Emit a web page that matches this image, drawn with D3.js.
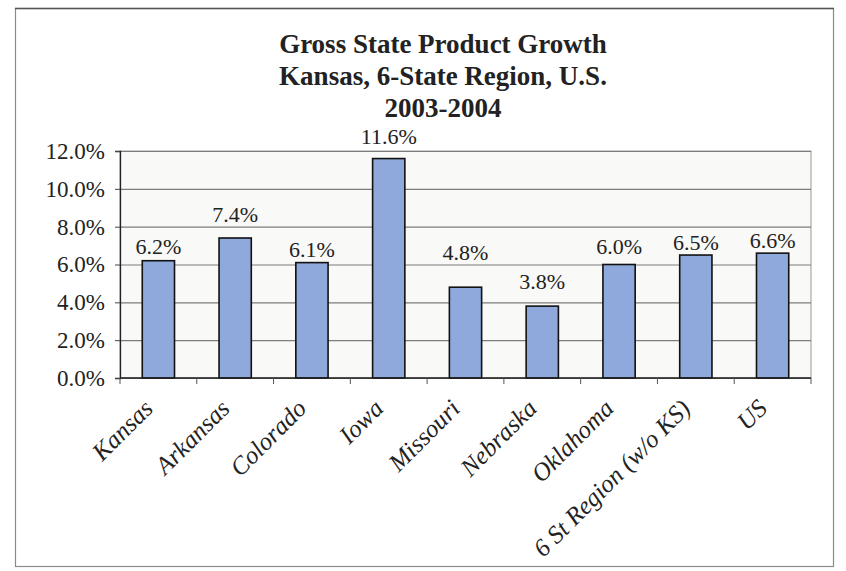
<!DOCTYPE html>
<html>
<head>
<meta charset="utf-8">
<script src="https://cdn.jsdelivr.net/npm/d3@7"></script>
<style>
  html, body { margin: 0; padding: 0; background: #fff; }
  svg { display: block; }
</style>
</head>
<body>
<script>
var states = ["Kansas", "Arkansas", "Colorado", "Iowa", "Missouri", "Nebraska", "Oklahoma", "6 St Region (w/o KS)", "US"];
var growth = [6.2, 7.4, 6.1, 11.6, 4.8, 3.8, 6.0, 6.5, 6.6];
var yTicks = [0, 2, 4, 6, 8, 10, 12];
var titleLines = ["Gross State Product Growth", "Kansas, 6-State Region, U.S.", "2003-2004"];

// labels were hand placed in the original, lift above bar top in px
var labelLift = [7, 16, 6, 15, 27, 17, 11, 5, 5];

var width = 846;
var height = 571;
var margin = {top: 151, right: 35, bottom: 193, left: 120};
var innerWidth = width - margin.left - margin.right;
var innerHeight = height - margin.top - margin.bottom;
var font = "Liberation Serif, serif";

var svg = d3.select("body")
  .append("svg")
  .attr("width", width)
  .attr("height", height)
  .attr("font-family", font);

// outer frame
svg.append("rect")
  .attr("x", 15.5)
  .attr("y", 8.5)
  .attr("width", 818)
  .attr("height", 558)
  .attr("fill", "#fff")
  .attr("stroke", "#8a8a8a")
  .attr("stroke-width", 1.2);

svg.append("line")
  .attr("x1", 15).attr("x2", 834)
  .attr("y1", 8.5).attr("y2", 8.5)
  .attr("stroke", "#555")
  .attr("stroke-width", 1.6);

// title, one text per line
svg.selectAll(".title")
  .data(titleLines)
  .enter()
  .append("text")
    .attr("class", "title")
    .attr("x", 443)
    .attr("y", function(d, i) { return 53 + i * 32; })
    .attr("text-anchor", "middle")
    .attr("font-weight", "bold")
    .attr("font-size", 27)
    .attr("fill", "#222")
    .text(function(d) { return d; });

var g = svg.append("g")
  .attr("transform", "translate(" + margin.left + "," + margin.top + ")");

var x = d3.scaleBand()
  .domain(states)
  .range([0, innerWidth])
  .paddingInner(0.58)
  .paddingOuter(0.29);

var y = d3.scaleLinear()
  .domain([0, 12])
  .range([innerHeight, 0]);

// plot area
g.append("rect")
  .attr("width", innerWidth)
  .attr("height", innerHeight)
  .attr("fill", "#f9f9f7")
  .attr("stroke", "#999")
  .attr("stroke-width", 1);

//gridlines
g.append("g")
  .attr("class", "grid")
  .call(d3.axisLeft(y).tickValues(yTicks).tickSize(-innerWidth).tickFormat(""))
  .call(function(s) {
    s.select(".domain").remove();
    s.selectAll("line").attr("stroke", "#7d7d7d").attr("stroke-width", 1.2);
  });

// y axis
g.append("g")
  .call(d3.axisLeft(y).tickValues(yTicks).tickSize(5).tickPadding(10)
    .tickFormat(function(d) { return d3.format(".1f")(d) + "%"; }))
  .attr("font-family", font)
  .attr("font-size", 23)
  .call(function(s) {
    s.select(".domain").attr("stroke", "#222").attr("stroke-width", 1.3);
    s.selectAll("line").attr("stroke", "#444");
    s.selectAll("text").attr("fill", "#222");
  });

// bars
g.selectAll(".bar")
  .data(states)
  .enter()
  .append("rect")
    .attr("class", "bar")
    .attr("x", function(d) { return x(d); })
    .attr("y", function(d, i) { return y(growth[i]); })
    .attr("width", x.bandwidth())
    .attr("height", function(d, i) { return innerHeight - y(growth[i]); })
    .attr("fill", "#8fa9dc")
    .attr("stroke", "#111")
    .attr("stroke-width", 1.6);

// value labels
g.selectAll(".val")
  .data(states)
  .enter()
  .append("text")
    .attr("class", "val")
    .attr("x", function(d) { return x(d) + x.bandwidth() / 2; })
    .attr("y", function(d, i) { return y(growth[i]) - labelLift[i]; })
    .attr("text-anchor", "middle")
    .attr("font-size", 22)
    .attr("fill", "#222")
    .text(function(d, i) { return growth[i].toFixed(1) + "%"; });

// x axis with ticks between categories
var xAxis = g.append("g")
  .attr("transform", "translate(0," + innerHeight + ")");

xAxis.append("line")
  .attr("x1", 0).attr("x2", innerWidth)
  .attr("stroke", "#222")
  .attr("stroke-width", 1.6);

xAxis.selectAll(".tick")
  .data(d3.range(states.length + 1))
  .enter()
  .append("line")
    .attr("class", "tick")
    .attr("x1", function(i) { return i * x.step(); })
    .attr("x2", function(i) { return i * x.step(); })
    .attr("y1", 0)
    .attr("y2", 6)
    .attr("stroke", "#555");

xAxis.selectAll(".cat")
  .data(states)
  .enter()
  .append("text")
    .attr("class", "cat")
    .attr("text-anchor", "end")
    .attr("font-style", "italic")
    .attr("font-size", 25)
    .attr("fill", "#222")
    .attr("transform", function(d) {
      return "translate(" + (x(d) + x.bandwidth() / 2 - 4) + ",32) rotate(-45)";
    })
    .text(function(d) { return d; });
</script>
</body>
</html>
